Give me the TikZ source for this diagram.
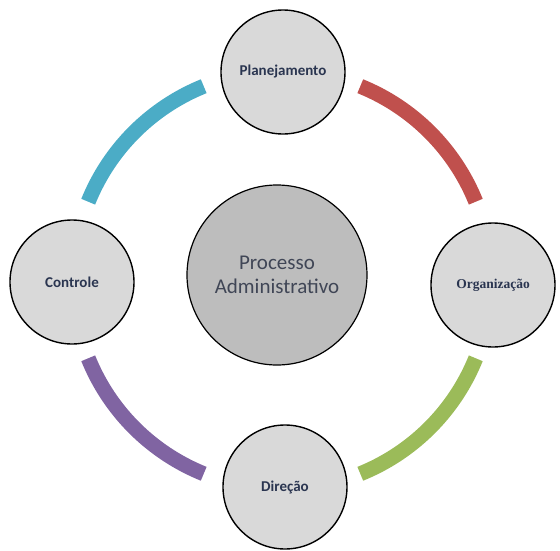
\documentclass[tikz,border=0pt]{standalone}
\usepackage{fontspec}
\setmainfont{Carlito}
\newfontfamily\cambriafont{Liberation Serif}
\definecolor{stepred}{HTML}{C0504D}
\definecolor{stepgreen}{HTML}{9BBB59}
\definecolor{steppurple}{HTML}{8064A2}
\definecolor{stepcyan}{HTML}{4BACC6}
\definecolor{labelnavy}{HTML}{2A3550}
\definecolor{coretext}{HTML}{404656}
\begin{document}
\begin{tikzpicture}[x=1pt, y=1pt,
    stage/.style={circle, draw=black, line width=1.4pt, fill=black!15,
        minimum size=124pt, inner sep=0pt, text=labelnavy, font=\bfseries\fontsize{15}{17}\selectfont},
    core/.style={circle, draw=black, line width=1.2pt, fill=black!26,
        minimum size=180pt, inner sep=0pt, align=center, text=coretext,
        font=\fontsize{21}{24}\selectfont},
    band/.style={line width=15pt}]
    \useasboundingbox (-282,-270) rectangle (278,280);

    % Ring of bands
    \coordinate (ring) at (0,0);
    \draw[band, stepred] (ring) ++(68:209) arc (68:22:209);
    \draw[band, stepgreen] (ring) ++(-22:209) arc (-22:-68:209);
    \draw[band, steppurple] (ring) ++(-112:209) arc (-112:-158:209);
    \draw[band, stepcyan] (ring) ++(158:209) arc (158:112:209);

    % Stages
    \node[stage] (plan) at (1,208) {Planejamento};
    \node[stage, font=\cambriafont\bfseries\fontsize{13.5}{15}\selectfont] (org) at (211,-5) {Organização};
    \node[stage] (dir) at (3,-207) {Direção};
    \node[stage] (ctrl) at (-210,-2) {Controle};

    % Center
    \node[core] (proc) at (-5,5) {Processo\\Administrativo};
\end{tikzpicture}
\end{document}
